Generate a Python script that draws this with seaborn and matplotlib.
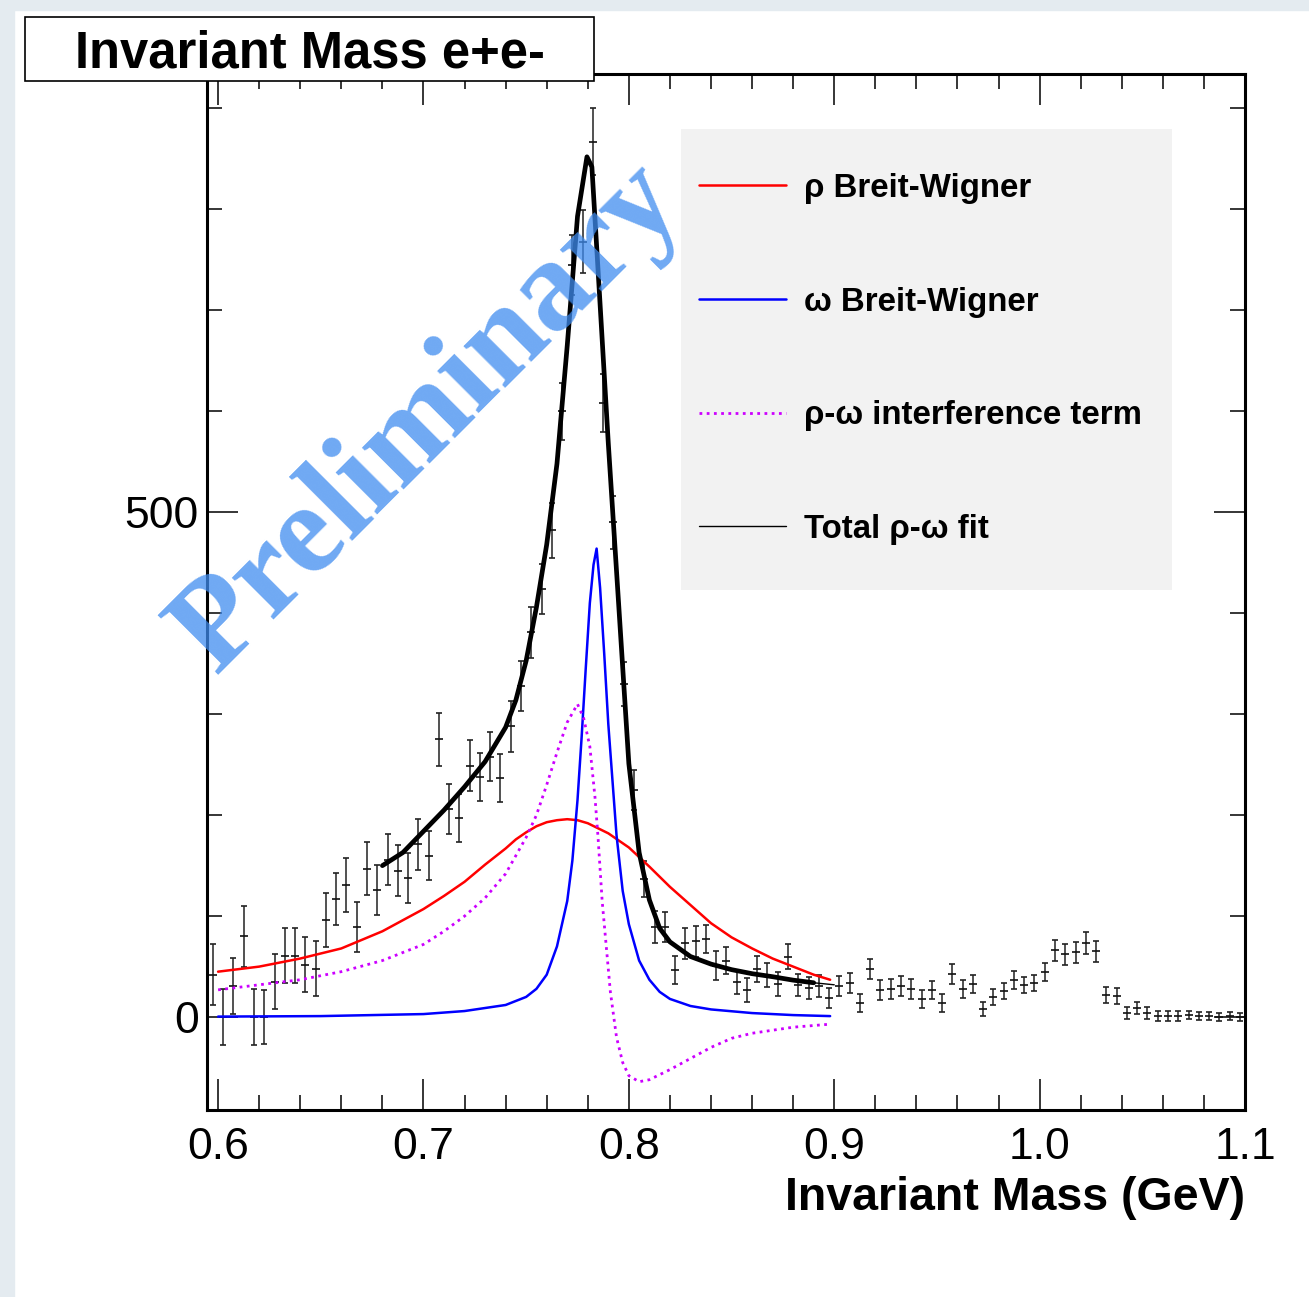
import numpy as np
import pandas as pd
import matplotlib
matplotlib.use("Agg")
import matplotlib.pyplot as plt
import seaborn as sns
from matplotlib.patches import Rectangle
from matplotlib.lines import Line2D
from matplotlib.font_manager import FontProperties

# ---------------- data ----------------
bin_low = 0.595
bin_width = 0.005
counts = [42, 0, 31, 80, 0, 0, 35, 61, 61, 52,
          48, 96, 117, 131, 89, 147, 126, 156, 145, 138,
          171, 160, 275, 206, 197, 249, 238, 258, 237, 288,
          328, 381, 424, 482, 600, 745, 768, 867, 608, 490,
          330, 225, 137, 89, 89, 47, 73, 75, 77, 51,
          56, 35, 27, 48, 42, 33, 60, 32, 29, 31,
          19, 31, 34, 14, 48, 27, 28, 31, 28, 18,
          27, 14, 43, 28, 33, 8, 20, 26, 37, 32,
          34, 45, 66, 62, 64, 73, 65, 22, 21, 4,
          9, 4, 1, 1, 1, 2, 1, 1, 0, 1, 0]
errors = [30, 28, 28, 30, 28, 27, 27, 27, 27, 27,
          27, 27, 26, 27, 25, 26, 25, 25, 25, 25,
          25, 24, 26, 25, 24, 25, 24, 24, 24, 25,
          25, 25, 25, 27, 28, 30, 31, 33, 29, 26,
          22, 20, 18, 16, 15, 14, 15, 15, 14, 14,
          13, 12, 12, 13, 12, 12, 12, 11, 11, 11,
          10, 10, 10, 9, 10, 10, 10, 10, 10, 9,
          9, 9, 10, 9, 9, 7, 8, 8, 9, 8,
          8, 9, 10, 10, 10, 11, 10, 8, 8, 6,
          6, 6, 5, 5, 5, 4, 4, 4, 4, 4, 4]
bin_centers = [bin_low + bin_width * (i + 0.5) for i in range(len(counts))]

rho_x = [0.600, 0.620, 0.640, 0.660, 0.680, 0.700, 0.710, 0.720, 0.730, 0.740,
         0.745, 0.750, 0.755, 0.760, 0.765, 0.770, 0.775, 0.780, 0.790, 0.800,
         0.810, 0.820, 0.830, 0.840, 0.850, 0.860, 0.870, 0.880, 0.890, 0.898]
rho_y = [45, 50, 58, 68, 85, 107, 120, 134, 151, 167,
         176, 183, 189, 193, 195, 196, 195, 192, 182, 168,
         149, 129, 111, 93, 79, 68, 58, 50, 42, 37]

omega_x = [0.600, 0.650, 0.700, 0.720, 0.740, 0.750, 0.755, 0.760, 0.765, 0.770,
           0.7725, 0.775, 0.777, 0.779, 0.781, 0.7828, 0.7843, 0.786, 0.788, 0.790,
           0.792, 0.794, 0.797, 0.800, 0.805, 0.810, 0.815, 0.820, 0.830, 0.840,
           0.860, 0.880, 0.898]
omega_y = [0.5, 1, 3, 6, 12, 20, 28, 42, 70, 115,
           155, 215, 277, 345, 410, 448, 464, 425, 360, 290,
           235, 180, 125, 92, 56, 37, 25, 18, 11, 7.6,
           4, 2, 1]

interf_x = [0.600, 0.620, 0.640, 0.660, 0.680, 0.700, 0.710, 0.720, 0.730, 0.740,
            0.750, 0.755, 0.760, 0.765, 0.770, 0.775, 0.778, 0.781, 0.7835, 0.785,
            0.787, 0.789, 0.791, 0.794, 0.797, 0.800, 0.805, 0.810, 0.820, 0.830,
            0.840, 0.850, 0.860, 0.870, 0.880, 0.898]
interf_y = [27, 32, 37, 45, 56, 72, 85, 100, 118, 142,
            178, 200, 230, 262, 292, 310, 296, 268, 218, 178,
            115, 70, 25, -20, -45, -58, -64, -62, -52, -41,
            -30, -21, -16, -13, -10, -7]

total_x = [0.680, 0.690, 0.700, 0.710, 0.720, 0.730, 0.740, 0.745, 0.750, 0.755,
           0.760, 0.765, 0.770, 0.775, 0.7796, 0.782, 0.785, 0.790, 0.795, 0.800,
           0.805, 0.810, 0.815, 0.820, 0.830, 0.840, 0.850, 0.860, 0.870, 0.880,
           0.890, 0.900]
total_y = [150, 163, 184, 205, 228, 253, 287, 314, 353, 406,
           468, 548, 665, 793, 852, 842, 740, 568, 410, 251,
           163, 116, 88, 74.5, 60, 52.5, 47, 43, 40, 36.6,
           34, 32]

legend_labels = ["ρ Breit-Wigner", "ω Breit-Wigner", "ρ-ω interference term", "Total ρ-ω fit"]
x_tick_vals = [0.6, 0.7, 0.8, 0.9, 1.0, 1.1]
x_tick_labels = ["0.6", "0.7", "0.8", "0.9", "1.0", "1.1"]
y_tick_vals = [0, 500]
y_tick_labels = ["0", "500"]

# ---------------- figure ----------------
sns.set_style("ticks")
plt.rcParams["font.family"] = ["Liberation Sans", "DejaVu Sans"]
plt.rcParams["text.color"] = "black"
plt.rcParams["axes.labelcolor"] = "black"
plt.rcParams["xtick.color"] = "black"
plt.rcParams["ytick.color"] = "black"

W, H = 1309, 1297
fig = plt.figure(figsize=(W / 100, H / 100), dpi=100)
fig.patch.set_facecolor("white")

# faint slide background strips
fig.add_artist(Rectangle((0, 1 - 10 / H), 1, 10 / H, transform=fig.transFigure,
                         color="#e4ebf0", zorder=-5))
fig.add_artist(Rectangle((0, 0), 14 / W, 1, transform=fig.transFigure,
                         color="#e4ebf0", zorder=-5))

ax = fig.add_axes([207 / W, 1 - 1110 / H, 1038 / W, 1036 / H])
ax.set_facecolor("white")

# legend background
ax.add_patch(Rectangle((681 / W, 1 - 590 / H), 491 / W, 461 / H, transform=fig.transFigure,
                       facecolor="#f2f2f2", edgecolor="none", zorder=0.5, clip_on=False))

# data points with error bars
ax.errorbar(bin_centers, counts, yerr=errors, fmt="_", ms=6, mew=1.2, color="#111111",
            ecolor="#222222", elinewidth=1.1, capsize=2.5, capthick=1.1, zorder=2)

df_rho = pd.DataFrame({"x": rho_x, "y": rho_y})
df_om = pd.DataFrame({"x": omega_x, "y": omega_y})
df_int = pd.DataFrame({"x": interf_x, "y": interf_y})
df_tot = pd.DataFrame({"x": total_x, "y": total_y})

sns.lineplot(data=df_rho, x="x", y="y", ax=ax, color="#ff0000", lw=1.8, sort=False,
             estimator=None, zorder=3)
sns.lineplot(data=df_om, x="x", y="y", ax=ax, color="#0000ff", lw=1.8, sort=False,
             estimator=None, zorder=3)
sns.lineplot(data=df_int, x="x", y="y", ax=ax, color="#cc00ff", lw=2.0, sort=False,
             estimator=None, zorder=3, linestyle=(0, (1, 1.6)))
sns.lineplot(data=df_tot, x="x", y="y", ax=ax, color="black", lw=1.0, sort=False,
             estimator=None, zorder=4)
sns.lineplot(data=df_tot[df_tot["x"] <= 0.89], x="x", y="y", ax=ax, color="black", lw=3.4,
             sort=False, estimator=None, zorder=4)

ax.set_xlim(0.5946, 1.1)
ax.set_ylim(-92, 934)
ax.set_xticks(x_tick_vals)
ax.set_xticklabels(x_tick_labels)
ax.set_xticks(np.arange(0.62, 1.09, 0.02), minor=True)
ax.set_yticks(y_tick_vals)
ax.set_yticklabels(y_tick_labels)
ax.set_yticks([100, 200, 300, 400, 600, 700, 800, 900], minor=True)

ax.tick_params(axis="both", which="both", direction="in", top=True, right=True,
               colors="black", labelcolor="black", width=1.1)
ax.tick_params(axis="both", which="major", length=22)
ax.tick_params(axis="both", which="minor", length=11)
ax.tick_params(axis="x", which="major", labelsize=32, pad=12)
ax.tick_params(axis="y", which="major", labelsize=32, pad=6)
for sp in ax.spines.values():
    sp.set_linewidth(2.2)
    sp.set_color("black")

ax.set_xlabel("Invariant Mass (GeV)", fontsize=33.5, fontweight="bold", loc="right",
              labelpad=6, color="black")
ax.set_ylabel("")

# legend
handles = [Line2D([], [], color="#ff0000", lw=1.8),
           Line2D([], [], color="#0000ff", lw=1.8),
           Line2D([], [], color="#cc00ff", lw=2.0, linestyle=(0, (1, 1.6))),
           Line2D([], [], color="black", lw=1.0)]
leg = ax.legend(handles, legend_labels, loc="upper left",
                bbox_to_anchor=(699 / W, 1 - 173 / H), bbox_transform=fig.transFigure,
                frameon=False, borderpad=0, borderaxespad=0, handlelength=2.64,
                handletextpad=0.55, labelspacing=2.50,
                prop=FontProperties(family="Liberation Sans", weight="bold", size=23.8))
for t in leg.get_texts():
    t.set_color("black")

# watermark
ax.text(0.214, 0.668, "Preliminary", transform=ax.transAxes, rotation=45,
        rotation_mode="anchor", ha="center", va="center", fontsize=93,
        family="Liberation Serif", fontweight="bold", color="#3f8cf0", alpha=0.75, zorder=6)

# title box
fig.add_artist(Rectangle((25 / W, 1 - 81 / H), 569 / W, 64 / H, transform=fig.transFigure,
                         facecolor="white", edgecolor="black", lw=1.2, zorder=10))
fig.text(309.5 / W, 1 - 67 / H, "Invariant Mass e+e-", ha="center", va="baseline",
         fontsize=36.5, fontweight="bold", family="Liberation Sans", color="black", zorder=11)

fig.savefig("out.png", dpi=100)
